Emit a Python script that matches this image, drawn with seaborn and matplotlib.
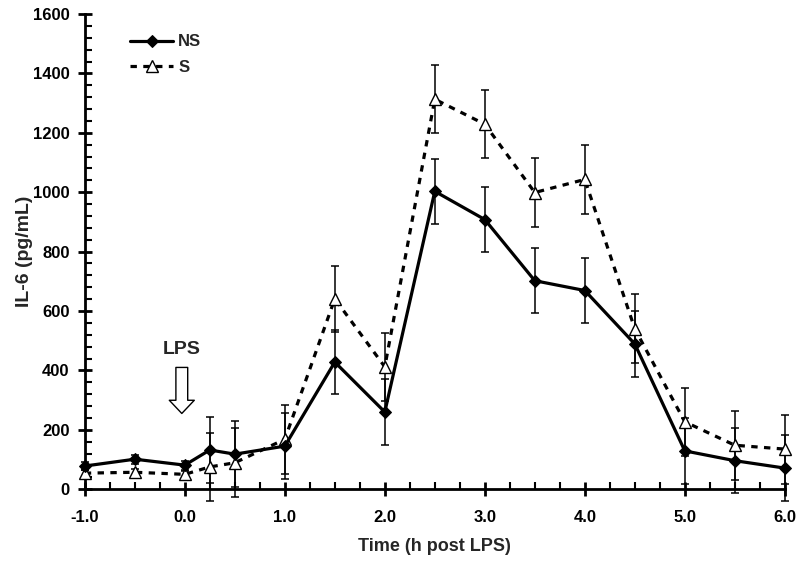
import numpy as np
import pandas as pd
import matplotlib
matplotlib.use("Agg")
import matplotlib.pyplot as plt
import seaborn as sns
from matplotlib.ticker import MultipleLocator

time = [-1.0, -0.5, 0.0, 0.25, 0.5, 1.0, 1.5, 2.0, 2.5, 3.0, 3.5, 4.0, 4.5, 5.0, 5.5, 6.0]
ns_vals = [78, 101, 81, 132, 118, 145, 428, 260, 1003, 908, 702, 669, 489, 129, 96, 71]
ns_err = [15, 15, 15, 110, 110, 110, 107, 112, 110, 110, 110, 110, 110, 110, 110, 110]
s_vals = [54, 57, 50, 75, 89, 168, 641, 412, 1313, 1229, 999, 1043, 540, 227, 148, 135]
s_err = [12, 12, 12, 115, 116, 116, 112, 115, 115, 115, 115, 115, 116, 115, 116, 116]
series_names = ["NS", "S"]
x_ticklabels = ["-1.0", "0.0", "1.0", "2.0", "3.0", "4.0", "5.0", "6.0"]

sns.set_style("ticks")
plt.rcParams["font.family"] = ["Liberation Sans", "DejaVu Sans"]
plt.rcParams["font.weight"] = "bold"

fig = plt.figure(figsize=(8.0, 5.61), dpi=100)
ax = fig.add_axes([0.106, 0.128, 0.875, 0.847])

df = pd.DataFrame({
    "time": time * 2,
    "val": ns_vals + s_vals,
    "grp": [series_names[0]] * len(time) + [series_names[1]] * len(time),
})

# error bars
ax.errorbar(time, ns_vals, yerr=ns_err, fmt="none", ecolor="black",
            elinewidth=1.1, capsize=3, capthick=1.1, clip_on=False, zorder=2)
ax.errorbar(time, s_vals, yerr=s_err, fmt="none", ecolor="black",
            elinewidth=1.1, capsize=3, capthick=1.1, clip_on=False, zorder=2)

sns.lineplot(data=df[df.grp == "NS"], x="time", y="val", ax=ax, color="black",
             linewidth=2.3, marker="D", markersize=6.5, markerfacecolor="black",
             markeredgecolor="black", label="NS", zorder=4, clip_on=False)
sns.lineplot(data=df[df.grp == "S"], x="time", y="val", ax=ax, color="black",
             linewidth=2.3, linestyle=(0, (2, 2)), marker="^", markersize=8,
             markerfacecolor="white", markeredgecolor="black", markeredgewidth=1.0,
             label="S", zorder=3, clip_on=False)

ax.set_xlim(-1.0, 6.0)
ax.set_ylim(0, 1600)
ax.set_xticks([-1, 0, 1, 2, 3, 4, 5, 6])
ax.set_xticklabels(x_ticklabels)
ax.xaxis.set_minor_locator(MultipleLocator(0.25))
ax.yaxis.set_major_locator(MultipleLocator(200))
ax.yaxis.set_minor_locator(MultipleLocator(40))

for s in ["top", "right"]:
    ax.spines[s].set_visible(False)
for s in ["left", "bottom"]:
    ax.spines[s].set_linewidth(2.0)
    ax.spines[s].set_color("black")

ax.tick_params(axis="both", which="major", direction="inout", length=10, width=2.0,
               labelsize=12, colors="black")
ax.tick_params(axis="x", which="major", pad=10)
ax.tick_params(axis="y", which="major", pad=6)
ax.tick_params(axis="both", which="minor", direction="in", length=5, width=1.5, colors="black")
for lab in ax.get_xticklabels() + ax.get_yticklabels():
    lab.set_fontweight("bold")

ax.set_xlabel("Time (h post LPS)", fontsize=13, fontweight="bold", labelpad=9)
ax.set_ylabel("IL-6 (pg/mL)", fontsize=14, fontweight="bold", labelpad=0)

leg = ax.legend(loc="upper left", bbox_to_anchor=(0.055, 0.971), frameon=False,
                handlelength=2.6, fontsize=12, handletextpad=0.3, labelspacing=0.65,
                borderaxespad=0)
for t in leg.get_texts():
    t.set_fontweight("bold")

ax.text(-0.03, 469, "LPS", ha="center", va="center", fontsize=14, fontweight="bold")
ax.annotate("", xy=(-0.03, 255), xytext=(-0.03, 410),
            arrowprops=dict(arrowstyle="simple,head_width=1.8,head_length=0.95,tail_width=0.85",
                            fc="white", ec="black", lw=1.0, mutation_scale=10,
                            shrinkA=0, shrinkB=0))

fig.savefig("out.png", dpi=100)
